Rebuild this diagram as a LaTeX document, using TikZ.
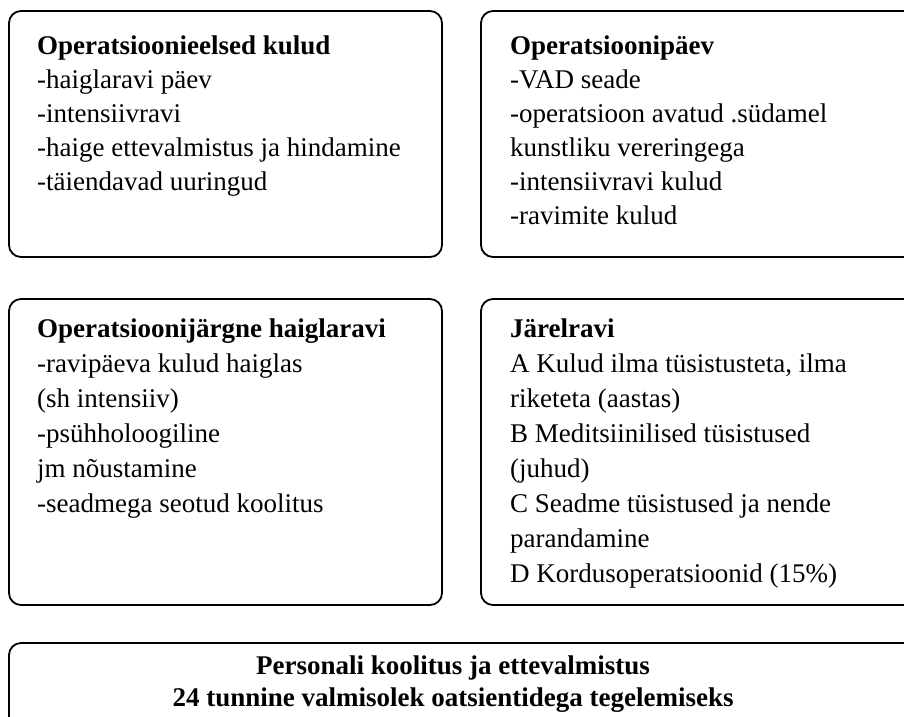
\documentclass[tikz,border=0pt]{standalone}
\usepackage{fontspec}
\setmainfont{Liberation Serif}
\newfontfamily\tms{Liberation Serif}
\newcommand{\topstrut}{\rule{0pt}{20pt}}
\begin{document}
\begin{tikzpicture}[x=1pt,y=-1pt,
  box/.style={draw=black, line width=1.8pt, rounded corners=12pt},
  txt/.style={anchor=north west, inner sep=0pt, align=left, font=\tms\fontsize{27pt}{34pt}\selectfont},
  txtb/.style={txt, font=\tms\fontsize{27pt}{35pt}\selectfont},
  ctxt/.style={anchor=north, inner sep=0pt, align=center, font=\tms\bfseries\fontsize{27pt}{32pt}\selectfont}]
\useasboundingbox (0,0) rectangle (904,716);
\clip (0,0) rectangle (904,716);
\draw[box] (9,11) rectangle (442,257);
\draw[box] (481,11) rectangle (935,257);
\draw[box] (9,299) rectangle (442,605);
\draw[box] (481,299) rectangle (935,605);
\draw[box] (9,643) rectangle (935,760);
\node[txt] (t1) at (37,34) {\topstrut\textbf{Operatsioonieelsed kulud}\\-haiglaravi päev\\-intensiivravi\\-haige ettevalmistus ja hindamine\\-täiendavad uuringud};
\node[txt] (t2) at (510,34) {\topstrut\textbf{Operatsioonipäev}\\-VAD seade\\-operatsioon avatud .südamel\\kunstliku vereringega\\-intensiivravi kulud\\-ravimite kulud};
\node[txtb] (t3) at (37,317) {\topstrut\textbf{Operatsioonijärgne haiglaravi}\\-ravipäeva kulud haiglas\\(sh intensiiv)\\-psühholoogiline\\jm nõustamine\\-seadmega seotud koolitus};
\node[txtb] (t4) at (510,317) {\topstrut\textbf{Järelravi}\\A Kulud ilma tüsistusteta, ilma\\riketeta (aastas)\\B Meditsiinilised tüsistused\\(juhud)\\C Seadme tüsistused ja nende\\parandamine\\D Kordusoperatsioonid (15\%)};
\node[ctxt] (t5) at (453,654) {\topstrut Personali koolitus ja ettevalmistus\\24 tunnine valmisolek oatsientidega tegelemiseks};
\end{tikzpicture}
\end{document}
